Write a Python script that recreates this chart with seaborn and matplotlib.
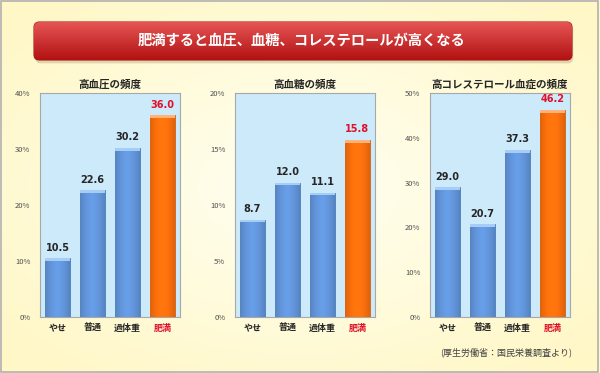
import numpy as np
import matplotlib
matplotlib.use("Agg")
import matplotlib.pyplot as plt
from matplotlib.patches import FancyBboxPatch, Rectangle
from matplotlib.ticker import PercentFormatter
import seaborn as sns

# data
categories = ["やせ", "普通", "過体重", "肥満"]
hypertension = [10.5, 22.6, 30.2, 36.0]
hyperglycemia = [8.7, 12.0, 11.1, 15.8]
cholesterol = [29.0, 20.7, 37.3, 46.2]
panel_titles = ["高血圧の頻度", "高血糖の頻度", "高コレステロール血症の頻度"]
y_max = [40, 20, 50]
y_step = [10, 5, 10]
main_title = "肥満すると血圧、血糖、コレステロールが高くなる"
source_note = "(厚生労働省：国民栄養調査より)"

sns.set_theme(style="white")
plt.rcParams["font.family"] = ["Noto Sans CJK JP", "DejaVu Sans"]

BLUE = "#5b92dc"
ORANGE = "#ff6a00"
RED_TXT = "#e0102a"

fig = plt.figure(figsize=(6, 3.73), dpi=100)
W, H = 600, 373

# background: pale yellow with a lighter centre
bg = fig.add_axes([0, 0, 1, 1])
yy, xx = np.mgrid[-1:1:200j, -1:1:300j]
r = np.clip(np.sqrt(xx ** 2 + yy ** 2) / 1.3, 0, 1)
c0 = np.array([1.0, 1.0, 0.95])
c1 = np.array([1.0, 0.97, 0.78])
img = c0 + (c1 - c0) * r[..., None]
bg.imshow(img, extent=[0, 1, 0, 1], aspect="auto", zorder=0)
bg.add_patch(Rectangle((0.002, 0.003), 0.995, 0.994, fill=False, ec="#b0b0b0", lw=1.2,
                       transform=bg.transAxes))
bg.set_xlim(0, 1)
bg.set_ylim(0, 1)
bg.axis("off")

# red title banner
bx0, bx1, by0, by1 = 34 / W, 572 / W, 1 - 60 / H, 1 - 22 / H
shadow = FancyBboxPatch((bx0 + 0.002, by0 - 0.009), bx1 - bx0, by1 - by0,
                        boxstyle="round,pad=0,rounding_size=0.009", fc="#c8b890", ec="none",
                        alpha=0.55, transform=bg.transAxes, mutation_aspect=W / H)
bg.add_patch(shadow)
banner = FancyBboxPatch((bx0, by0), bx1 - bx0, by1 - by0,
                        boxstyle="round,pad=0,rounding_size=0.009", fc="#c82828", ec="#a01818",
                        lw=0.8, transform=bg.transAxes, mutation_aspect=W / H)
bg.add_patch(banner)
grad = np.linspace(0, 1, 50)[:, None]
red_img = np.zeros((50, 1, 3))
red_img[..., 0] = 0.90 - 0.20 * grad
red_img[..., 1] = 0.33 - 0.26 * grad
red_img[..., 2] = 0.33 - 0.26 * grad
im = bg.imshow(red_img, extent=[bx0, bx1, by0, by1], aspect="auto", zorder=2)
im.set_clip_path(banner)
bg.text(302 / W, (by0 + by1) / 2, main_title, color="white", fontsize=10.3,
        fontweight="bold", ha="center", va="center", zorder=3)

bg.text(572 / W, 1 - 352 / H, source_note, fontsize=6.5, color="#404040",
        ha="right", va="center")

series = [hypertension, hyperglycemia, cholesterol]
lefts = [40, 235, 430]
palette = {c: (ORANGE if c == "肥満" else BLUE) for c in categories}

for i, vals in enumerate(series):
    ax = fig.add_axes([lefts[i] / W, 1 - 317 / H, 140 / W, 224 / H])
    ax.set_facecolor("#cdeafb")
    sns.barplot(x=categories, y=vals, hue=categories, palette=palette, legend=False,
                width=0.71, saturation=1, ax=ax, zorder=3)
    ax.set_ylim(0, y_max[i])
    ax.set_yticks(np.arange(0, y_max[i] + 1, y_step[i]))
    ax.yaxis.set_major_formatter(PercentFormatter(decimals=0))
    ax.tick_params(axis="y", labelsize=5.5, labelcolor="#505050", length=0, pad=7)
    ax.tick_params(axis="x", labelsize=6.5, length=0, pad=5)
    for lbl in ax.get_xticklabels():
        lbl.set_fontweight("bold")
        if lbl.get_text() == "肥満":
            lbl.set_color(RED_TXT)
    for s in ax.spines.values():
        s.set_color("#a8a8a8")
        s.set_linewidth(0.8)
    ax.set_xlabel("")
    ax.set_ylabel("")
    ax.set_title(panel_titles[i], fontsize=7.6, fontweight="bold", pad=3.5)

    # shading and light top cap on each bar
    cap_h = y_max[i] * 0.012
    for j, p in enumerate(list(ax.patches)):
        x0, w, h = p.get_x(), p.get_width(), p.get_height()
        orange = categories[round(x0 + w / 2)] == "肥満"
        fc = p.get_facecolor()
        p.set_edgecolor("#d05000" if orange else "#3d6fb8")
        p.set_linewidth(0.5)
        shade = np.linspace(-1, 1, 40)
        k = 1 - 0.18 * np.abs(shade) ** 1.5
        strip = np.clip(np.array(fc[:3])[None, None, :] * k[None, :, None] + 0.05, 0, 1)
        si = ax.imshow(strip, extent=[x0, x0 + w, 0, h], aspect="auto", zorder=3.5)
        si.set_clip_path(p)
        ax.add_patch(Rectangle((x0, h - cap_h), w, cap_h,
                               fc="#ffb27a" if orange else "#a6cdf5", ec="none", zorder=4))
    ax.set_xlim(-0.5, 3.5)
    ax.set_ylim(0, y_max[i])

    for j, cont in enumerate(ax.containers):
        texts = ax.bar_label(cont, fmt="%.1f", padding=4, fontsize=7, fontweight="bold",
                             family="DejaVu Sans", zorder=5)
        if categories[j] == "肥満":
            for t in texts:
                t.set_color(RED_TXT)

fig.savefig("out.png", dpi=100)
